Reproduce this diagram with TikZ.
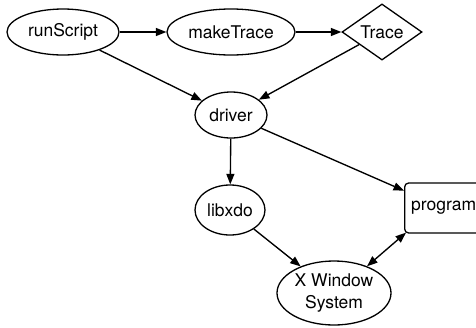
\documentclass[tikz,border=0pt]{standalone}
\usepackage{fontspec}
\setmainfont{TeX Gyre Heros}
\usetikzlibrary{shapes.geometric,arrows.meta}
\begin{document}
\begin{tikzpicture}[x=1pt,y=-1pt,
  every node/.style={font=\fontsize{17.5}{22.5}\selectfont, line width=1.3pt, inner sep=0pt},
  oval/.style={draw, ellipse},
  dia/.style={draw, diamond},
  box/.style={draw, rectangle, rounded corners=4pt, anchor=west, inner xsep=6.5pt},
  link/.style={line width=1.35pt, -{Triangle[length=10.5pt,width=8pt]}},
  both/.style={line width=1.35pt, {Triangle[length=10.5pt,width=8pt]}-{Triangle[length=10.5pt,width=8pt]}}]
\useasboundingbox (0,0) rectangle (476,327);

\node[oval, minimum width=112pt, minimum height=46pt] (run) at (63,32) {runScript};
\node[oval, minimum width=128pt, minimum height=46pt] (make) at (231,32) {makeTrace};
\node[dia, minimum width=80pt, minimum height=54pt] (trace) at (382,32) {Trace};
\node[oval, minimum width=72pt, minimum height=46pt] (drv) at (231,115) {driver};
\node[oval, minimum width=70pt, minimum height=50pt] (xdo) at (230,210) {libxdo};
\node[box, minimum height=50pt] (prog) at (404,208) {program};
\node[oval, minimum width=114pt, minimum height=64pt, align=center] (xw) at (334,293) {X Window\\System};

\draw[link] (run) -- (make);
\draw[link] (make) -- (trace);
\draw[link] (run) -- (drv);
\draw[link] (trace) -- (drv);
\draw[link] (drv) -- (xdo);
\draw[link] (drv) -- (prog);
\draw[link] (xdo) -- (xw);
\draw[both] (xw.39) -- ([xshift=2pt,yshift=1pt]prog.south west);
\end{tikzpicture}
\end{document}
